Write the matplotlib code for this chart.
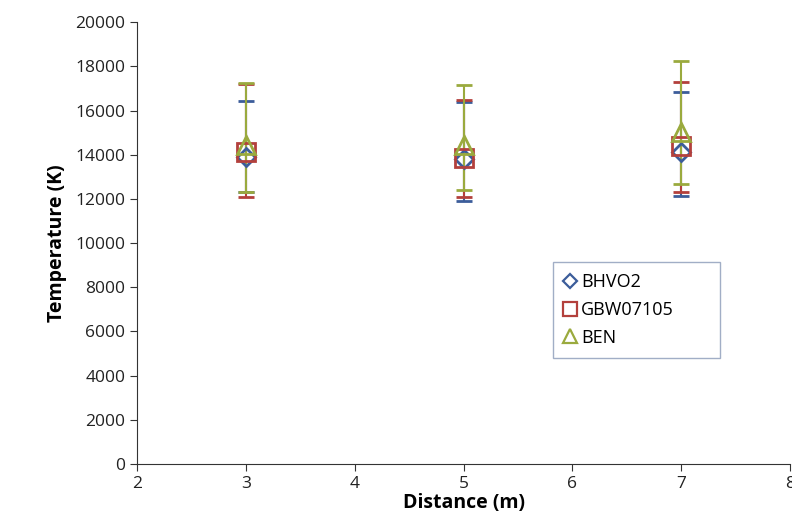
import numpy as np
import matplotlib.pyplot as plt
from matplotlib.lines import Line2D

plt.rcParams['font.family'] = ['Open Sans', 'DejaVu Sans']

# ---------- data ----------
distance = [3, 5, 7]
series = ["BHVO2", "GBW07105", "BEN"]

bhvo2_t = [13900, 13800, 14100]
bhvo2_hi = [16440, 16400, 16820]
bhvo2_lo = [12300, 11910, 12140]

gbw_t = [14100, 13850, 14400]
gbw_hi = [17200, 16460, 17300]
gbw_lo = [12100, 12070, 12320]

ben_t = [14450, 14450, 15050]
ben_hi = [17240, 17150, 18250]
ben_lo = [12320, 12400, 12670]

colors = ["#3C5D9A", "#B3403C", "#9AAA3E"]
markers = ["D", "s", "^"]
msizes = [9, 13, 13]

fig = plt.figure(figsize=(7.92, 5.27), dpi=100)
ax = fig.add_axes([0.173, 0.1195, 0.8245, 0.8385])

data = [(bhvo2_t, bhvo2_lo, bhvo2_hi),
        (gbw_t, gbw_lo, gbw_hi),
        (ben_t, ben_lo, ben_hi)]

handles = []
for name, (t, lo, hi), c, m, ms in zip(series, data, colors, markers, msizes):
    t = np.array(t)
    yerr = [t - np.array(lo), np.array(hi) - t]
    ax.errorbar(distance, t, yerr=yerr, fmt=m, color=c, ecolor=c,
                markerfacecolor="none", markeredgecolor=c, markeredgewidth=2,
                markersize=ms, capsize=5.5, capthick=1.5, elinewidth=1.5)
    handles.append(Line2D([], [], linestyle="none", marker=m, markersize=ms * 0.75,
                          markerfacecolor="none", markeredgecolor=c,
                          markeredgewidth=1.6, label=name))

ax.set_xlim(2, 8)
ax.set_ylim(0, 20000)
ax.set_xticks(range(2, 9))
ax.set_yticks(range(0, 20001, 2000))
ax.spines["top"].set_visible(False)
ax.spines["right"].set_visible(False)
ax.spines["left"].set_color("#333333")
ax.spines["bottom"].set_color("#333333")
ax.tick_params(direction="out", length=5, labelsize=12.5, colors="#333333",
               labelcolor="#222222")
ax.set_xlabel("Distance (m)", fontsize=14, fontweight="bold", labelpad=1)
ax.set_ylabel("Temperature (K)", fontsize=14, fontweight="bold", labelpad=6)

# legend box spans the same area as in the original (expand mode)
leg = ax.legend(handles=handles, loc="upper left",
                bbox_to_anchor=(0.637, 0.236, 0.256, 0.221), mode="expand",
                fontsize=13, frameon=True, fancybox=False,
                handlelength=0.7, handletextpad=0.25, borderpad=0.6,
                labelspacing=0.55, borderaxespad=0)
leg.get_frame().set_edgecolor("#8A9AB8")
leg.get_frame().set_linewidth(1.0)

plt.savefig("out.png", dpi=100)
